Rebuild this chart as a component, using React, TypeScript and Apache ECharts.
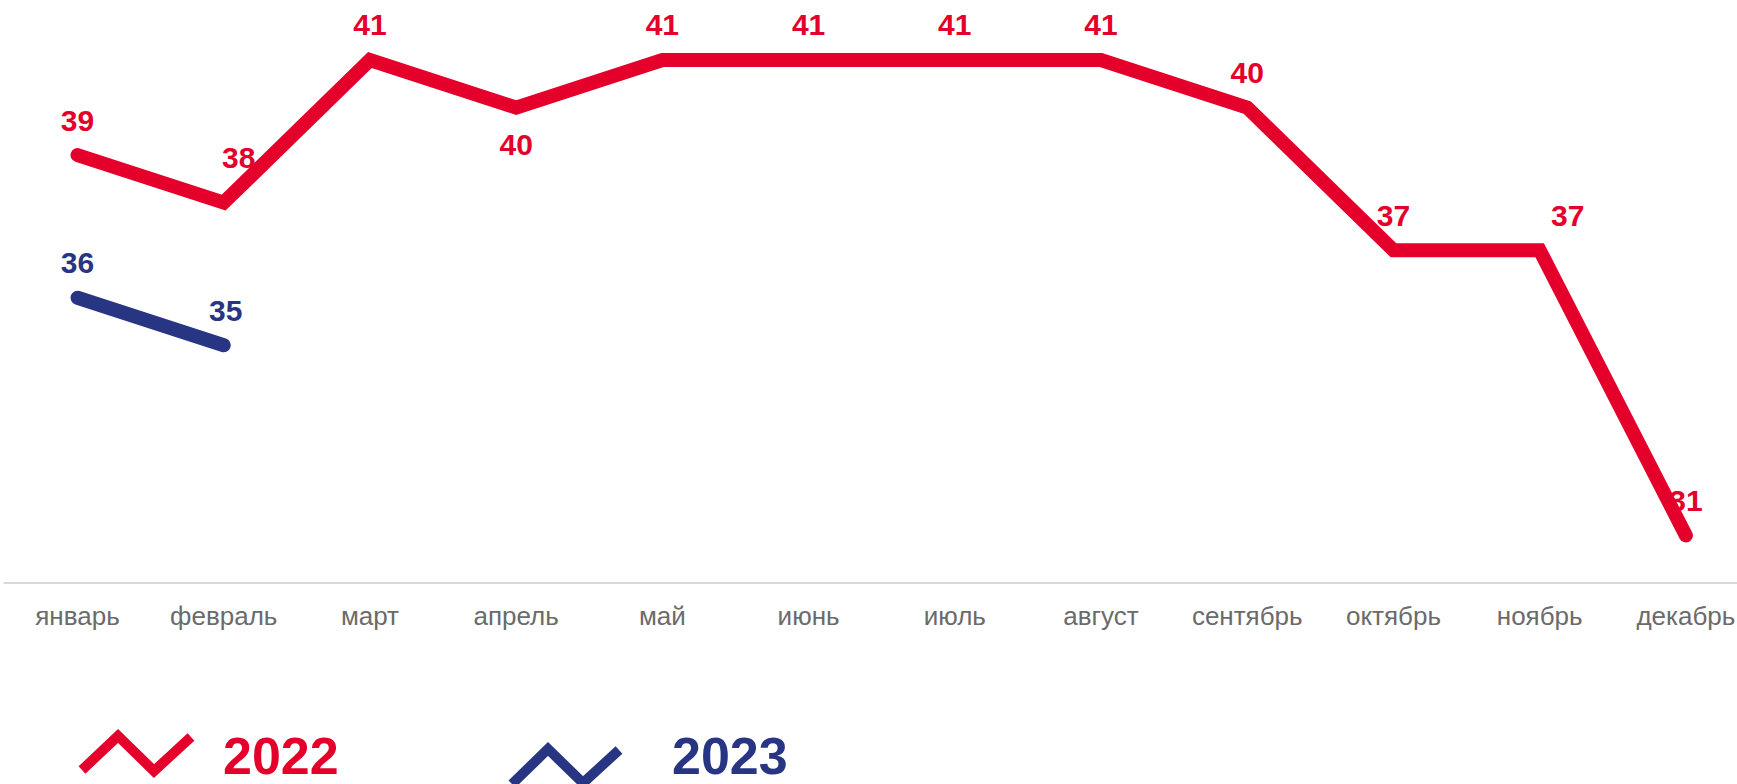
import React, { useEffect, useRef } from "react";
import * as echarts from "echarts";

const months = [
  "январь", "февраль", "март", "апрель", "май", "июнь",
  "июль", "август", "сентябрь", "октябрь", "ноябрь", "декабрь",
];
const values2022 = [39, 38, 41, 40, 41, 41, 41, 41, 40, 37, 37, 31];
const values2023 = [36, 35];
const seriesNames = ["2022", "2023"];

const RED = "#E4002B";
const BLUE = "#283583";
const FONT = "'Liberation Sans', Arial, sans-serif";

// label offsets (layout only)
const offsets2022: [number, number][] = [
  [0, -35], [15, -45], [0, -35], [0, 37], [0, -35], [0, -35],
  [0, -35], [0, -35], [0, -35], [0, -35], [28, -35], [0, -35],
];
const offsets2023: [number, number][] = [[0, -35], [2, -35]];

export default function App() {
  const ref = useRef<HTMLDivElement>(null);

  useEffect(() => {
    if (!ref.current) return;
    const chart = echarts.init(ref.current, undefined, { renderer: "svg" });

    const mkData = (vals: number[], offs: [number, number][]) =>
      vals.map((v, i) => ({ value: v, label: { offset: offs[i] } }));

    const labelBase = (color: string) => ({
      show: true,
      position: "inside",
      color,
      fontSize: 30,
      fontWeight: "bold",
      fontFamily: FONT,
    });

    chart.setOption({
      animation: false,
      backgroundColor: "#ffffff",
      grid: { left: 4.4, right: 0, top: 12.45, bottom: 201, containLabel: false },
      xAxis: {
        type: "category",
        data: months,
        boundaryGap: true,
        axisLine: { show: true, lineStyle: { color: "#d9d9d9", width: 2 } },
        axisTick: { show: false },
        axisLabel: {
          color: "#6b6b6b",
          fontSize: 26,
          fontFamily: FONT,
          margin: 20,
          interval: 0,
        },
        splitLine: { show: false },
      },
      yAxis: {
        type: "value",
        min: 30,
        max: 42,
        show: false,
        splitLine: { show: false },
      },
      series: [
        {
          name: seriesNames[0],
          type: "line",
          data: mkData(values2022, offsets2022),
          symbol: "circle",
          symbolSize: 1,
          itemStyle: { color: RED },
          lineStyle: { color: RED, width: 14, cap: "round", join: "miter" },
          label: labelBase(RED),
          z: 2,
        },
        {
          name: seriesNames[1],
          type: "line",
          data: mkData(values2023, offsets2023),
          symbol: "circle",
          symbolSize: 1,
          itemStyle: { color: BLUE },
          lineStyle: { color: BLUE, width: 14, cap: "round", join: "miter" },
          label: labelBase(BLUE),
          z: 2,
        },
      ],
      graphic: [
        {
          type: "polyline",
          shape: { points: [[82, 770], [118, 736], [154, 771], [191, 737]] },
          style: { stroke: RED, lineWidth: 10, fill: null, lineCap: "butt", lineJoin: "miter" },
        },
        {
          type: "text",
          x: 223,
          y: 756,
          style: {
            text: seriesNames[0],
            fill: RED,
            font: `bold 52px ${FONT}`,
            verticalAlign: "middle",
            align: "left",
          },
        },
        {
          type: "polyline",
          shape: { points: [[512, 784], [548, 749], [583, 783], [619, 750]] },
          style: { stroke: BLUE, lineWidth: 10, fill: null, lineCap: "butt", lineJoin: "miter" },
        },
        {
          type: "text",
          x: 672,
          y: 756,
          style: {
            text: seriesNames[1],
            fill: BLUE,
            font: `bold 52px ${FONT}`,
            verticalAlign: "middle",
            align: "left",
          },
        },
      ],
    });

    return () => chart.dispose();
  }, []);

  return (
    <div style={{ position: "absolute", left: 0, top: 0, width: 1737, height: 784, overflow: "hidden" }}>
      <div ref={ref} style={{ width: 1759, height: 784 }} />
    </div>
  );
}
